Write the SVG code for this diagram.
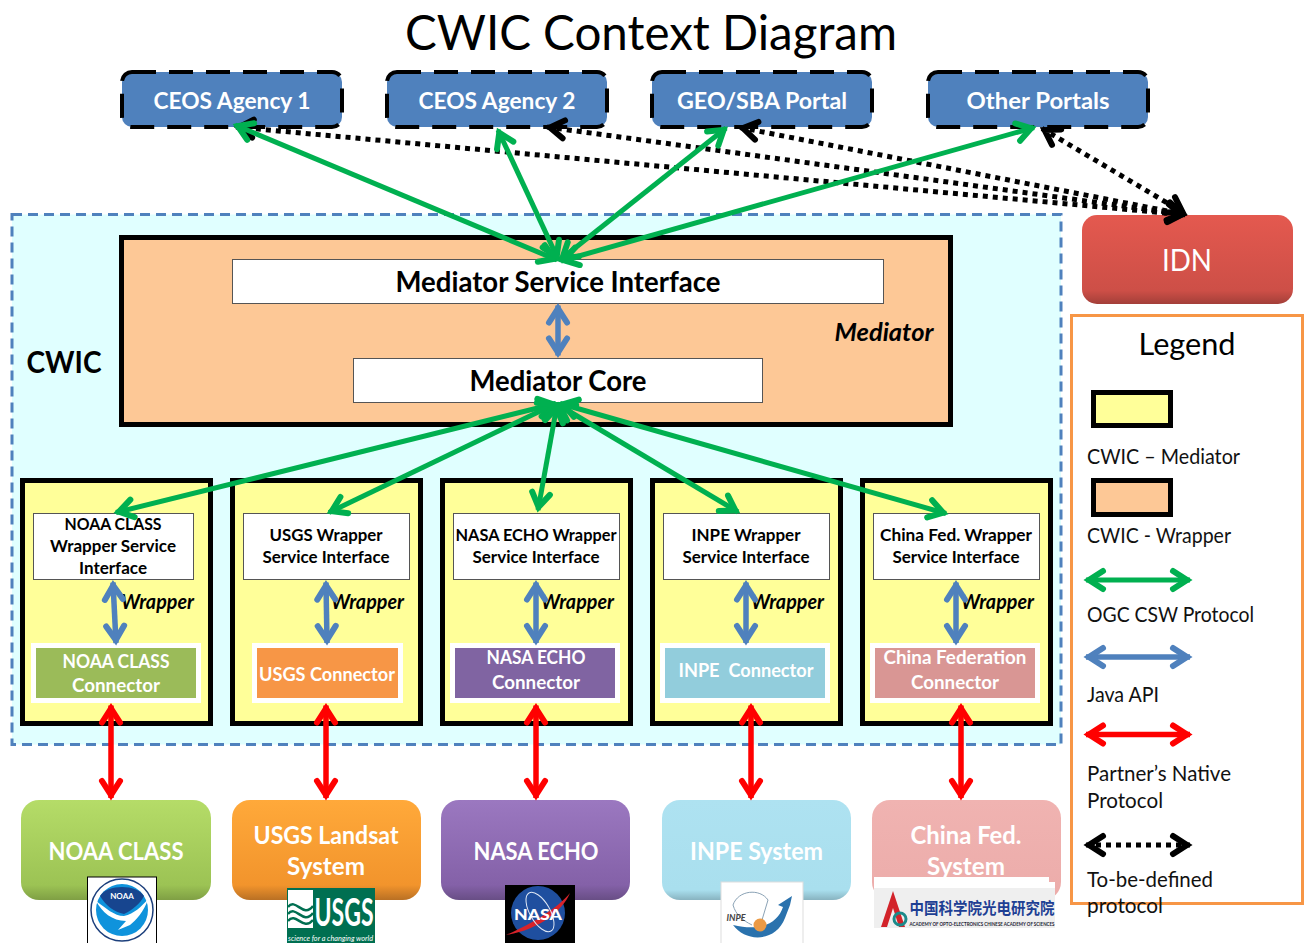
<svg xmlns="http://www.w3.org/2000/svg" width="1304" height="943" viewBox="0 0 1304 943">
<style>
text{font-family:"Lato","Liberation Sans",sans-serif;text-anchor:middle;fill:#000}
.w{fill:#fff;font-weight:700}
.b{font-weight:700}
.l{text-anchor:start;font-size:21px;fill:#111}
.wr{font-weight:700;font-style:italic;font-size:20px}
.if{font-weight:700;font-size:17px}
.cn{fill:#fff;font-weight:700;font-size:19px}
.bt{fill:#fff;font-weight:700;font-size:25px}
.top{fill:#4f81bd;stroke:#000;stroke-width:4;stroke-dasharray:24 13}
.wbox{fill:#ffff99;stroke:#000;stroke-width:5}
.ifb{fill:#fff;stroke:#555;stroke-width:1}
.cw{fill:#fff}
.g{stroke:#00b050;stroke-width:5;fill:none;marker-start:url(#ag);marker-end:url(#ag)}
.bl{stroke:#4f81bd;stroke-width:5.500;fill:none;marker-start:url(#ab);marker-end:url(#ab)}
.r{stroke:#f00;stroke-width:5.500;fill:none;marker-start:url(#ar);marker-end:url(#ar)}
.d{stroke:#000;stroke-width:5;stroke-dasharray:5 5;fill:none;marker-start:url(#ak);marker-end:url(#ak)}
</style>
<defs>
<marker id="ag" markerUnits="userSpaceOnUse" markerWidth="40" markerHeight="40" refX="24" refY="20" orient="auto-start-reverse"><path d="M7,11 L21,20 L7,29" fill="none" stroke="#00b050" stroke-width="6" stroke-linecap="round"/></marker>
<marker id="ab" markerUnits="userSpaceOnUse" markerWidth="40" markerHeight="40" refX="24" refY="20" orient="auto-start-reverse"><path d="M7,11 L21,20 L7,29" fill="none" stroke="#4f81bd" stroke-width="6" stroke-linecap="round"/></marker>
<marker id="ar" markerUnits="userSpaceOnUse" markerWidth="40" markerHeight="40" refX="24" refY="20" orient="auto-start-reverse"><path d="M7,11 L21,20 L7,29" fill="none" stroke="#f00" stroke-width="6" stroke-linecap="round"/></marker>
<marker id="ak" markerUnits="userSpaceOnUse" markerWidth="40" markerHeight="40" refX="24" refY="20" orient="auto-start-reverse"><path d="M7,11 L21,20 L7,29" fill="none" stroke="#000" stroke-width="6" stroke-linecap="round"/></marker>
<linearGradient id="gG" x1="0" y1="0" x2="0" y2="1"><stop offset="0" stop-color="#b5dc68"/><stop offset=".85" stop-color="#9cc354"/><stop offset="1" stop-color="#7f9f44"/></linearGradient>
<linearGradient id="gO" x1="0" y1="0" x2="0" y2="1"><stop offset="0" stop-color="#ffa93a"/><stop offset=".85" stop-color="#f2942c"/><stop offset="1" stop-color="#b97024"/></linearGradient>
<linearGradient id="gP" x1="0" y1="0" x2="0" y2="1"><stop offset="0" stop-color="#9b78c0"/><stop offset=".85" stop-color="#8461a8"/><stop offset="1" stop-color="#684e85"/></linearGradient>
<linearGradient id="gC" x1="0" y1="0" x2="0" y2="1"><stop offset="0" stop-color="#aee2f1"/><stop offset=".9" stop-color="#a9dfee"/><stop offset="1" stop-color="#88b3c0"/></linearGradient>
<linearGradient id="gK" x1="0" y1="0" x2="0" y2="1"><stop offset="0" stop-color="#f0b3b1"/><stop offset="1" stop-color="#ecacaa"/></linearGradient>
<linearGradient id="gR" x1="0" y1="0" x2="0" y2="1"><stop offset="0" stop-color="#e4594f"/><stop offset=".85" stop-color="#cd4f47"/><stop offset="1" stop-color="#a33f39"/></linearGradient>
</defs>
<rect width="1304" height="943" fill="#fff"/>
<text id="title" x="651" y="50" font-size="48" textLength="492" lengthAdjust="spacingAndGlyphs">CWIC Context Diagram</text>

<g id="cwic">
<rect x="12" y="214.500" width="1049" height="530" fill="#e0ffff" stroke="#4f81bd" stroke-width="3" stroke-dasharray="10 6"/>
<text class="b" x="64" y="373" font-size="30" textLength="75" lengthAdjust="spacingAndGlyphs">CWIC</text>
</g>

<g id="agency1"><rect class="top" x="122" y="72" width="220" height="55" rx="10"/><text class="w" x="232" y="109" font-size="23" textLength="157" lengthAdjust="spacingAndGlyphs">CEOS Agency 1</text></g>
<g id="agency2"><rect class="top" x="387" y="72" width="220" height="55" rx="10"/><text class="w" x="497" y="109" font-size="23" textLength="157" lengthAdjust="spacingAndGlyphs">CEOS Agency 2</text></g>
<g id="geo"><rect class="top" x="652" y="72" width="220" height="55" rx="10"/><text class="w" x="762" y="109" font-size="23" textLength="170" lengthAdjust="spacingAndGlyphs">GEO/SBA Portal</text></g>
<g id="other"><rect class="top" x="928" y="72" width="220" height="55" rx="10"/><text class="w" x="1038" y="109" font-size="23" textLength="143" lengthAdjust="spacingAndGlyphs">Other Portals</text></g>

<g id="mediator">
<rect x="121.500" y="237.500" width="829" height="187" fill="#fdc896" stroke="#000" stroke-width="5"/>
<text class="wr" x="884" y="341" style="font-size:24px" textLength="99" lengthAdjust="spacingAndGlyphs">Mediator</text>
</g>
<g id="msi"><rect x="232.500" y="259.500" width="651" height="44" fill="#fff" stroke="#555"/><text class="b" x="558" y="292" font-size="28" textLength="325" lengthAdjust="spacingAndGlyphs">Mediator Service Interface</text></g>
<g id="core"><rect x="353.500" y="358.500" width="409" height="44" fill="#fff" stroke="#555"/><text class="b" x="558" y="391" font-size="28" textLength="177" lengthAdjust="spacingAndGlyphs">Mediator Core</text></g>

<g id="w-noaa"><rect class="wbox" x="22.500" y="480.500" width="188" height="243"/>
<rect class="ifb" x="33.500" y="513.500" width="160" height="66"/>
<text class="if" x="113" y="530" textLength="97" lengthAdjust="spacingAndGlyphs">NOAA CLASS</text><text class="if" x="113" y="552" textLength="126" lengthAdjust="spacingAndGlyphs">Wrapper Service</text><text class="if" x="113" y="574" textLength="68" lengthAdjust="spacingAndGlyphs">Interface</text>
<text class="wr" x="157.500" y="609" textLength="73" lengthAdjust="spacingAndGlyphs">Wrapper</text>
<rect class="cw" x="31" y="643" width="170" height="60"/><rect x="36" y="648" width="160" height="50" fill="#9bbb59"/>
<text class="cn" x="116" y="668" textLength="107" lengthAdjust="spacingAndGlyphs">NOAA CLASS</text><text class="cn" x="116" y="692" textLength="88" lengthAdjust="spacingAndGlyphs">Connector</text></g>

<g id="w-usgs"><rect class="wbox" x="232.500" y="480.500" width="188" height="243"/>
<rect class="ifb" x="243.500" y="513.500" width="166" height="66"/>
<text class="if" x="326" y="541" textLength="113" lengthAdjust="spacingAndGlyphs">USGS Wrapper</text><text class="if" x="326" y="563" textLength="127" lengthAdjust="spacingAndGlyphs">Service Interface</text>
<text class="wr" x="367.500" y="609" textLength="73" lengthAdjust="spacingAndGlyphs">Wrapper</text>
<rect class="cw" x="252" y="643" width="151" height="60"/><rect x="257" y="648" width="141" height="50" fill="#f79646"/>
<text class="cn" x="327" y="681" textLength="136" lengthAdjust="spacingAndGlyphs">USGS Connector</text></g>

<g id="w-nasa"><rect class="wbox" x="442.500" y="480.500" width="188" height="243"/>
<rect class="ifb" x="453.500" y="513.500" width="166" height="66"/>
<text class="if" x="536" y="541" textLength="161" lengthAdjust="spacingAndGlyphs">NASA ECHO Wrapper</text><text class="if" x="536" y="563" textLength="127" lengthAdjust="spacingAndGlyphs">Service Interface</text>
<text class="wr" x="577.500" y="609" textLength="73" lengthAdjust="spacingAndGlyphs">Wrapper</text>
<rect class="cw" x="450" y="643" width="170" height="60"/><rect x="455" y="648" width="160" height="50" fill="#8064a2"/>
<text class="cn" x="536" y="664" textLength="99" lengthAdjust="spacingAndGlyphs">NASA ECHO</text><text class="cn" x="536" y="689" textLength="88" lengthAdjust="spacingAndGlyphs">Connector</text></g>

<g id="w-inpe"><rect class="wbox" x="652.500" y="480.500" width="188" height="243"/>
<rect class="ifb" x="663.500" y="513.500" width="166" height="66"/>
<text class="if" x="746" y="541" textLength="109" lengthAdjust="spacingAndGlyphs">INPE Wrapper</text><text class="if" x="746" y="563" textLength="127" lengthAdjust="spacingAndGlyphs">Service Interface</text>
<text class="wr" x="787.500" y="609" textLength="73" lengthAdjust="spacingAndGlyphs">Wrapper</text>
<rect class="cw" x="660" y="643" width="170" height="60"/><rect x="665" y="648" width="160" height="50" fill="#92cddc"/>
<text class="cn" x="746" y="677" xml:space="preserve" textLength="135" lengthAdjust="spacingAndGlyphs">INPE  Connector</text></g>

<g id="w-china"><rect class="wbox" x="862.500" y="480.500" width="188" height="243"/>
<rect class="ifb" x="873.500" y="513.500" width="166" height="66"/>
<text class="if" x="956" y="541" textLength="152" lengthAdjust="spacingAndGlyphs">China Fed. Wrapper</text><text class="if" x="956" y="563" textLength="127" lengthAdjust="spacingAndGlyphs">Service Interface</text>
<text class="wr" x="997.500" y="609" textLength="73" lengthAdjust="spacingAndGlyphs">Wrapper</text>
<rect class="cw" x="870" y="643" width="170" height="60"/><rect x="875" y="648" width="160" height="50" fill="#d99694"/>
<text class="cn" x="955" y="664" textLength="143" lengthAdjust="spacingAndGlyphs">China Federation</text><text class="cn" x="955" y="689" textLength="88" lengthAdjust="spacingAndGlyphs">Connector</text></g>

<g id="idn"><rect x="1082" y="215" width="211" height="89" rx="15" fill="url(#gR)"/><text x="1187" y="271" font-size="30" style="fill:#fff" textLength="50" lengthAdjust="spacingAndGlyphs">IDN</text></g>

<g id="legend">
<rect x="1071.500" y="315.500" width="231" height="588" fill="#fff" stroke="#f79646" stroke-width="3"/>
<text x="1187" y="355" font-size="30" textLength="97" lengthAdjust="spacingAndGlyphs">Legend</text>
<rect x="1093.500" y="392.500" width="77" height="33" fill="#ffff99" stroke="#000" stroke-width="5"/>
<text class="l" x="1087" y="464" textLength="153" lengthAdjust="spacingAndGlyphs">CWIC – Mediator</text>
<rect x="1093.500" y="480.500" width="77" height="34" fill="#fdc896" stroke="#000" stroke-width="5"/>
<text class="l" x="1087" y="543" textLength="144" lengthAdjust="spacingAndGlyphs">CWIC - Wrapper</text>
<path class="g" d="M1086,580H1190"/>
<text class="l" x="1087" y="622" textLength="167" lengthAdjust="spacingAndGlyphs">OGC CSW Protocol</text>
<path class="bl" d="M1086,657H1190"/>
<text class="l" x="1087" y="702" textLength="72" lengthAdjust="spacingAndGlyphs">Java API</text>
<path class="r" d="M1086,734.500H1190"/>
<text class="l" x="1087" y="781" textLength="144" lengthAdjust="spacingAndGlyphs">Partner’s Native</text>
<text class="l" x="1087" y="808" textLength="76" lengthAdjust="spacingAndGlyphs">Protocol</text>
<path class="d" d="M1086,845H1190"/>
<text class="l" x="1087" y="887" textLength="126" lengthAdjust="spacingAndGlyphs">To-be-defined</text>
<text class="l" x="1087" y="913" textLength="76" lengthAdjust="spacingAndGlyphs">protocol</text>
</g>

<g id="noaa"><rect x="21" y="800" width="190" height="100" rx="18" fill="url(#gG)"/><text class="bt" x="116" y="860" textLength="135" lengthAdjust="spacingAndGlyphs">NOAA CLASS</text>
<rect x="87.500" y="877" width="69" height="70" fill="#fff" stroke="#000"/>
<circle cx="122" cy="910" r="31" fill="#fff" stroke="#1c3f7c" stroke-width="1.500"/>
<circle cx="122" cy="910" r="26" fill="#0f93dc"/>
<path d="M100,896C107,884 137,884 144,896C140,904 132,910 124,914C114,912 106,906 100,896Z" fill="#17458f"/>
<path d="M96,901C106,908 114,916 124,916C134,914 142,906 148,899C144,912 136,920 130,925L118,930L126,921C112,921 102,912 96,901Z" fill="#fff"/>
<text x="122" y="899" font-size="8" style="fill:#fff;font-weight:700">NOAA</text></g>

<g id="usgs"><rect x="232" y="800" width="189" height="100" rx="18" fill="url(#gO)"/><text class="bt" x="326" y="844" textLength="145" lengthAdjust="spacingAndGlyphs">USGS Landsat</text><text class="bt" x="326" y="875" textLength="78" lengthAdjust="spacingAndGlyphs">System</text>
<rect x="287" y="888" width="88" height="55" fill="#006f51"/>
<path d="M288,890H313V928H288Z" fill="#fff"/>
<path d="M288,907C296,897 303,919 313,906M288,914C296,904 303,926 313,913M288,921C296,911 303,932 313,920" fill="none" stroke="#006f51" stroke-width="2.500"/>
<text x="344" y="926" font-size="38" style="fill:#fff;font-weight:700" textLength="59" lengthAdjust="spacingAndGlyphs">USGS</text>
<text x="330.500" y="941" font-size="8" style="fill:#fff;font-style:italic" textLength="85" lengthAdjust="spacingAndGlyphs">science for a changing world</text></g>

<g id="nasa"><rect x="441" y="800" width="189" height="100" rx="18" fill="url(#gP)"/><text class="bt" x="536" y="860" textLength="125" lengthAdjust="spacingAndGlyphs">NASA ECHO</text>
<rect x="505" y="885" width="70" height="58" fill="#000"/>
<circle cx="538" cy="913" r="27" fill="#1f4f9f"/>
<path d="M506,935C530,925 558,908 570,893C562,912 538,930 506,935Z" fill="#d8232a"/>
<ellipse cx="540" cy="912" rx="22" ry="10" fill="none" stroke="#dfe8f5" transform="rotate(60 540 912)"/>
<text x="538" y="920" font-size="15" style="fill:#fff;font-weight:900" textLength="48" lengthAdjust="spacingAndGlyphs">NASA</text></g>

<g id="inpe"><rect x="662" y="800" width="189" height="100" rx="18" fill="url(#gC)"/><text class="bt" x="756.500" y="860" textLength="133" lengthAdjust="spacingAndGlyphs">INPE System</text>
<rect x="721" y="882" width="82" height="62" fill="#fff" stroke="#ddd"/>
<path d="M733,925C746,943 776,942 785,918L790,905L792,896L778,905L783,907C778,922 763,932 733,925Z" fill="#2a72ad"/>
<path d="M733,905C738,890 760,888 768,900L762,920M733,905C736,915 742,920 752,925" fill="none" stroke="#8aa2b5"/>
<circle cx="760" cy="925" r="6.500" fill="#eb9a45"/>
<text x="736" y="921" font-size="9" style="fill:#444;font-weight:700;font-style:italic">INPE</text></g>

<g id="china"><rect x="872" y="800" width="189" height="100" rx="18" fill="url(#gK)"/><text class="bt" x="966" y="844" textLength="111" lengthAdjust="spacingAndGlyphs">China Fed.</text><text class="bt" x="966" y="875" textLength="78" lengthAdjust="spacingAndGlyphs">System</text>
<rect x="874" y="877" width="175" height="6" fill="#fff"/>
<rect x="874" y="882" width="181" height="46" fill="#fff"/>
<rect x="874" y="888" width="181" height="40" fill="#efefef"/>
<path d="M881,927L893,891L905,927H899L893,908L887,927Z" fill="#d2232a"/>
<circle cx="900" cy="919" r="6" fill="none" stroke="#1b8a8a" stroke-width="3"/>
<text x="982" y="914" font-size="16" style="font-family:'Noto Sans CJK SC','Lato',sans-serif;fill:#1e3f94;font-weight:700" textLength="145" lengthAdjust="spacingAndGlyphs">中国科学院光电研究院</text>
<text x="982" y="926" font-size="5" style="fill:#223;font-weight:700" textLength="145" lengthAdjust="spacingAndGlyphs">ACADEMY OF OPTO-ELECTRONICS CHINESE ACADEMY OF SCIENCES</text></g>

<g id="connectors">
<path class="d" d="M236,127L1185,214.800"/>
<path class="d" d="M547,127L1185,214.600"/>
<path class="d" d="M740,127.500L1185,214.500"/>
<path class="d" d="M1042,128.500L1185,213.500"/>
<path class="g" d="M557,260L235,125"/>
<path class="g" d="M558,259L498,130"/>
<path class="g" d="M560,260L726,128"/>
<path class="g" d="M561,261L1034,127.500"/>
<path class="bl" d="M558,305.500V355.500"/>
<path class="g" d="M556,403.500L116,512.500"/>
<path class="g" d="M556,403.500L329,512.500"/>
<path class="g" d="M557,405L538,510"/>
<path class="g" d="M557,404L738,512"/>
<path class="g" d="M560,403.500L946,513.500"/>
<path class="bl" d="M113,582.500L116,643"/>
<path class="bl" d="M326,582.500L327,643"/>
<path class="bl" d="M536,582.500V643"/>
<path class="bl" d="M746,582.500V643"/>
<path class="bl" d="M956,582.500V643"/>
<path class="r" d="M111,705.500V798"/>
<path class="r" d="M326,705.500V798"/>
<path class="r" d="M536,705.500V798"/>
<path class="r" d="M751,705.500V798"/>
<path class="r" d="M961,705.500V798"/>
</g>
</svg>
